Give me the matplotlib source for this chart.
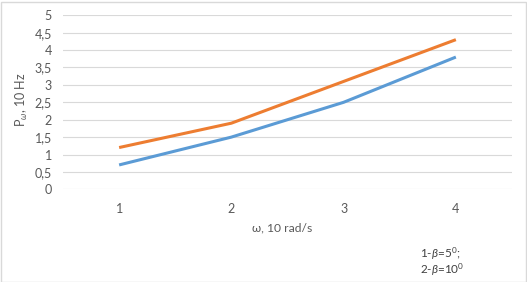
import matplotlib
matplotlib.use("Agg")
import matplotlib.pyplot as plt
from matplotlib.patches import Rectangle

# data
categories = [1, 2, 3, 4]
p_beta5 = [0.7, 1.5, 2.5, 3.8]
p_beta10 = [1.2, 1.9, 3.1, 4.3]
y_ticks = [0, 0.5, 1, 1.5, 2, 2.5, 3, 3.5, 4, 4.5, 5]
y_tick_labels = ["0", "0,5", "1", "1,5", "2", "2,5", "3", "3,5", "4", "4,5", "5"]

plt.rcParams["font.family"] = ["Lato", "DejaVu Sans"]
plt.rcParams["mathtext.fontset"] = "custom"
plt.rcParams["mathtext.rm"] = "Lato"
plt.rcParams["mathtext.it"] = "Lato:italic"

txt = "#595959"
grid = "#D9D9D9"

fig = plt.figure(figsize=(5.27, 2.82), dpi=100)
ax = fig.add_axes([63 / 527, 92.7 / 282, 449 / 527, 174 / 282])

ax.plot(categories, p_beta5, color="#5B9BD5", lw=2.2, solid_capstyle="butt")
ax.plot(categories, p_beta10, color="#ED7D31", lw=2.2, solid_capstyle="butt")

ax.set_xlim(0.5, 4.5)
ax.set_ylim(0, 5)
ax.set_xticks(categories)
ax.set_xticklabels([str(c) for c in categories])
ax.set_yticks(y_ticks)
ax.set_yticklabels(y_tick_labels)
ax.tick_params(length=0, labelsize=9, colors=txt, pad=8)
ax.tick_params(axis="x", pad=10)
ax.grid(axis="y", color=grid, lw=0.8)
ax.set_axisbelow(True)
for s in ax.spines.values():
    s.set_visible(False)

fig.text(22 / 527, 1 - 100 / 282, r"P$_{\omega}$, 10 Hz", rotation=90,
         ha="center", va="center", fontsize=9, color=txt)
fig.text(282 / 527, 1 - 228 / 282, "ω, 10 rad/s", ha="center", va="center",
         fontsize=8.7, color=txt)
# legend-like notes under the plot
fig.text(420 / 527, 1 - 254 / 282, r"1-$\it{\beta}$=5$^0$;", ha="left", va="center",
         fontsize=8.5, color="#404040")
fig.text(420 / 527, 1 - 270 / 282, r"2-$\it{\beta}$=10$^0$", ha="left", va="center",
         fontsize=8.5, color="#404040")

fig.patches.append(Rectangle((0.5 / 527, 0.5 / 282), 525 / 527, 280 / 282,
                             transform=fig.transFigure, fill=False,
                             edgecolor=grid, lw=1))

fig.savefig("out.png", dpi=100)
